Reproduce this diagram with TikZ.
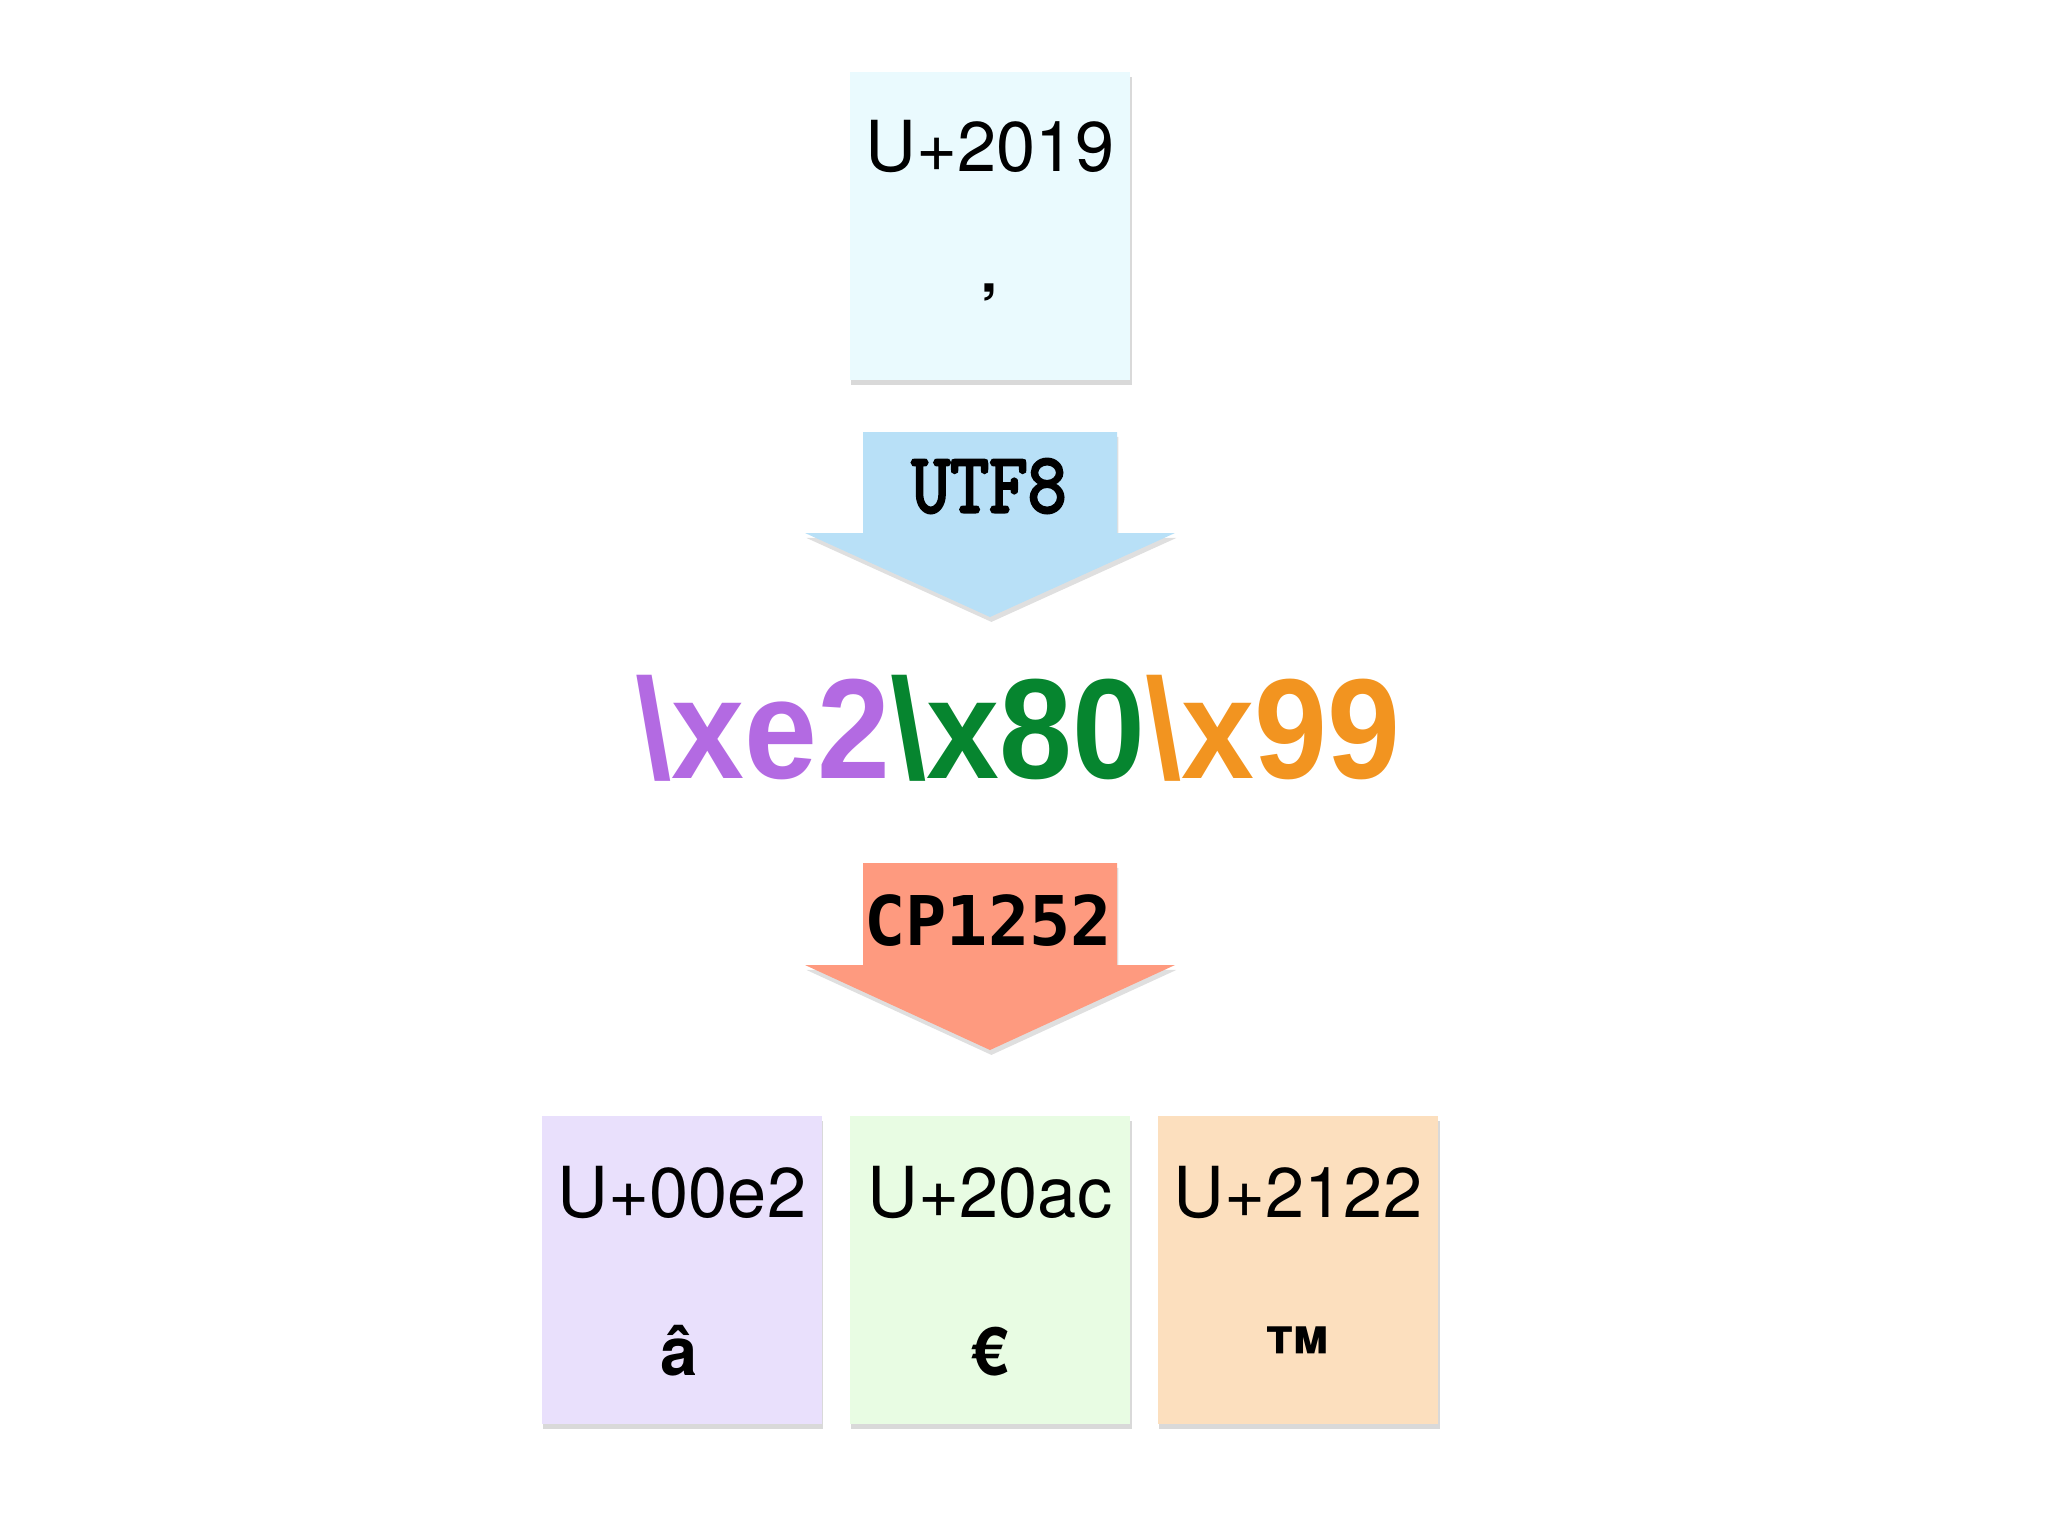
\documentclass[tikz,border=0pt]{standalone}
\usepackage{fontspec}
\usepackage{graphicx}
\setmainfont{TeX Gyre Heros}
\newfontfamily\utffont[FakeBold=3.5]{Latin Modern Mono}
\newfontfamily\cpfont{DejaVu Sans Mono}
\newfontfamily\bytefont{Liberation Sans}
\usepackage{tikz}
\usetikzlibrary{shadows,positioning}

\definecolor{topcard}{RGB}{234,250,254}
\definecolor{acard}{RGB}{233,224,252}
\definecolor{eurocard}{RGB}{232,252,227}
\definecolor{tmcard}{RGB}{252,223,190}
\definecolor{utfblue}{RGB}{184,224,247}
\definecolor{cpsalmon}{RGB}{254,154,127}
\definecolor{bytepurple}{RGB}{179,106,226}
\definecolor{bytegreen}{RGB}{6,133,47}
\definecolor{byteorange}{RGB}{242,148,32}

\begin{document}
\begin{tikzpicture}[x=0.01cm,y=-0.01cm,
	card/.style={rectangle,minimum width=2.8cm,minimum height=3.07cm,inner sep=0pt,
		drop shadow={shadow xshift=0.4pt,shadow yshift=-1.4pt,opacity=0.3}},
	hexcode/.style={anchor=base,inner sep=0pt,font=\fontsize{20}{24}\selectfont},
	glyph/.style={anchor=base,inner sep=0pt,font=\fontsize{19}{23}\selectfont\bfseries},
	bigarrow/.style={drop shadow={shadow xshift=0.4pt,shadow yshift=-1.4pt,opacity=0.25}}]
	\useasboundingbox (0,0) rectangle (2048,1536);
	% top card
	\node[card,fill=topcard] (top card) at (990,226) {};
	\node[hexcode] (top code) at (990,171) {U+2019};
	\node[glyph] (top glyph) at (990,332) {’};
	% utf8 arrow
	\fill[utfblue,bigarrow] (863,432) -- (1117,432) -- (1117,533) -- (1175,533) -- (990,617) -- (805,533) -- (863,533) -- cycle;
	\node[anchor=base,inner sep=0pt,font=\utffont\fontsize{21.4}{25}\selectfont] (utf) at (989,512) {\scalebox{1}[1.13]{UTF8}};
	% bytes
	\node[anchor=base,inner sep=0pt,font=\bytefont\bfseries\fontsize{40.5}{48}\selectfont] (bytes) at (1018,778)
		{\scalebox{0.92}[1]{\textcolor{bytepurple}{\textbackslash xe2}\textcolor{bytegreen}{\textbackslash x80}\textcolor{byteorange}{\textbackslash x99}}};
	% cp1252 arrow
	\fill[cpsalmon,bigarrow] (863,863) -- (1117,863) -- (1117,965) -- (1175,965) -- (990,1050) -- (805,965) -- (863,965) -- cycle;
	\node[anchor=base,inner sep=0pt,font=\cpfont\bfseries\fontsize{19.5}{23}\selectfont] (cp) at (988,945) {CP1252};
	% bottom cards
	\node[card,fill=acard] (a card) at (682,1270) {};
	\node[card,fill=eurocard] (euro card) at (990,1270) {};
	\node[card,fill=tmcard] (tm card) at (1298,1270) {};
	\node[hexcode] (a code) at (682,1217) {U+00e2};
	\node[hexcode] (euro code) at (990,1217) {U+20ac};
	\node[hexcode] (tm code) at (1298,1217) {U+2122};
	\node[glyph] (a glyph) at (679,1375) {â};
	\node[glyph] (euro glyph) at (990,1375) {€};
	\node[glyph] (tm glyph) at (1297,1375) {™};
\end{tikzpicture}
\end{document}
